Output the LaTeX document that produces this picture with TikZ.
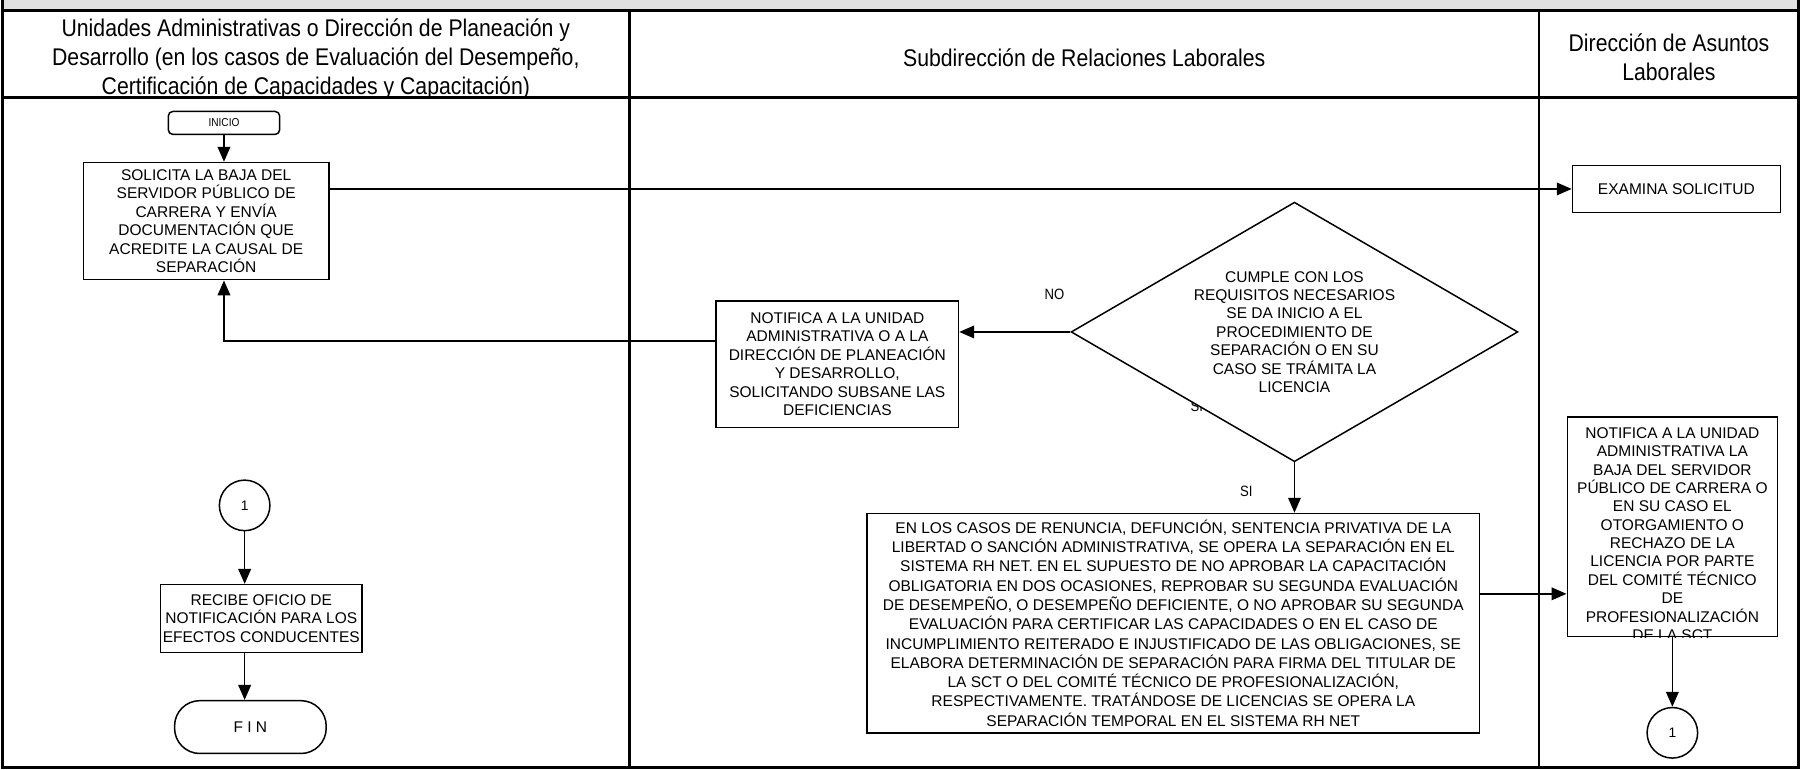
\documentclass[tikz,border=0pt]{standalone}
\usepackage{fontspec}
\setmainfont{Liberation Sans}
\newfontfamily\narrowfont[FakeStretch=0.88]{Liberation Sans}
\usetikzlibrary{shapes.geometric, arrows.meta, positioning}
\definecolor{bandgray}{RGB}{224,224,224}

\begin{document}
\begin{tikzpicture}[x=1pt, y=-1pt,
  lane/.style={line width=2.2pt},
  pbox/.style={draw, line width=1.3pt, align=center, inner sep=2pt, font=\fontsize{13.5}{16}\selectfont},
  term/.style={draw, line width=1.3pt, align=center},
  conn/.style={draw, circle, line width=1.3pt, minimum size=44pt, inner sep=0pt, font=\fontsize{12}{14}\selectfont},
  flow/.style={line width=1.3pt, -{Triangle[length=13pt, width=11pt]}},
  hdr/.style={align=center, font=\narrowfont\fontsize{21}{25}\selectfont},
  tag/.style={font=\narrowfont\fontsize{13}{15}\selectfont}
]
  \useasboundingbox (0,0) rectangle (1568,670);

  % swimlanes
  \fill[bandgray] (2,0) rectangle (1566,9);
  \draw[lane] (2,0) -- (2,668) -- (1566,668) -- (1566,0);
  \draw[lane] (2,9) -- (1566,9);
  \draw[lane] (2,85) -- (1566,85);
  \draw[lane] (548,9) -- (548,668);
  \draw[lane] (1340,9) -- (1340,668);

  \node[hdr] (hunidades) at (275,51.5) {Unidades Administrativas o Dirección de Planeación y\\
    Desarrollo (en los casos de Evaluación del Desempeño,\\
    Certificación de Capacidades y Capacitación)};
  \node[hdr] (hsubdir) at (944,50) {Subdirección de Relaciones Laborales};
  \node[hdr] (hdal) at (1453,50) {Dirección de Asuntos\\Laborales};

  % first lane
  \node[term, rounded corners=4pt, minimum width=97pt, minimum height=20pt,
    font=\narrowfont\fontsize{10}{12}\selectfont] (inicio) at (195,107) {INICIO};
  \node[pbox, minimum width=214pt, minimum height=102pt] (solicita) at (179.5,192.5) {SOLICITA LA BAJA DEL\\
    SERVIDOR PÚBLICO DE\\CARRERA Y ENVÍA\\DOCUMENTACIÓN QUE\\ACREDITE LA CAUSAL DE\\SEPARACIÓN};
  \node[conn] (conA) at (213,440) {1};
  \node[pbox, minimum width=175pt, minimum height=59pt] (recibe) at (227.5,538.5) {RECIBE OFICIO DE\\
    NOTIFICACIÓN PARA LOS\\EFECTOS CONDUCENTES};
  \node[term, rounded corners=22pt, minimum width=132pt, minimum height=46pt,
    font=\fontsize{13.5}{16}\selectfont] (fin) at (218,633) {F I N};

  % second lane
  \node[pbox, minimum width=211pt, minimum height=110pt] (notifica) at (729,317) {NOTIFICA A LA UNIDAD\\
    ADMINISTRATIVA O A LA\\DIRECCIÓN DE PLANEACIÓN\\Y DESARROLLO,\\SOLICITANDO SUBSANE LAS\\DEFICIENCIAS};
  \node[tag] (sihidden) at (1042,354) {SI};
  \node[pbox, shape=diamond, fill=white, inner sep=0pt, aspect=1.72, minimum width=389pt, minimum height=226pt]
    (cumple) at (1127,289) {CUMPLE CON LOS\\REQUISITOS NECESARIOS\\SE DA INICIO A EL\\PROCEDIMIENTO DE\\
    SEPARACIÓN O EN SU\\CASO SE TRÁMITA LA\\LICENCIA};
  \node[tag] (no) at (918,256) {NO};
  \node[tag] (si) at (1085,428) {SI};
  \node[pbox, minimum width=533pt, minimum height=191pt, font=\fontsize{13.5}{16.8}\selectfont] (opera)
    at (1021.5,542.5) {EN LOS CASOS DE RENUNCIA, DEFUNCIÓN, SENTENCIA PRIVATIVA DE LA\\
    LIBERTAD O SANCIÓN ADMINISTRATIVA, SE OPERA LA SEPARACIÓN EN EL\\
    SISTEMA RH NET. EN EL SUPUESTO DE NO APROBAR LA CAPACITACIÓN\\
    OBLIGATORIA EN DOS OCASIONES, REPROBAR SU SEGUNDA EVALUACIÓN\\
    DE DESEMPEÑO, O DESEMPEÑO DEFICIENTE, O NO APROBAR SU SEGUNDA\\
    EVALUACIÓN PARA CERTIFICAR LAS CAPACIDADES O EN EL CASO DE\\
    INCUMPLIMIENTO REITERADO E INJUSTIFICADO DE LAS OBLIGACIONES, SE\\
    ELABORA DETERMINACIÓN DE SEPARACIÓN PARA FIRMA DEL TITULAR DE\\
    LA SCT O DEL COMITÉ TÉCNICO DE PROFESIONALIZACIÓN,\\
    RESPECTIVAMENTE. TRATÁNDOSE DE LICENCIAS SE OPERA LA\\
    SEPARACIÓN TEMPORAL EN EL SISTEMA RH NET};

  % third lane
  \node[pbox, minimum width=181pt, minimum height=41pt] (examina) at (1459.5,164.5) {EXAMINA SOLICITUD};
  \node[pbox, minimum width=183pt, minimum height=191pt] (notificados) at (1456,458.5) {};
  \begin{scope}
    \clip (notificados.south west) rectangle (notificados.north east);
    \node[anchor=north, align=center, inner sep=0pt, font=\fontsize{13.5}{16}\selectfont] (notificadostxt)
      at (1456,372) {NOTIFICA A LA UNIDAD\\ADMINISTRATIVA LA\\BAJA DEL SERVIDOR\\PÚBLICO DE CARRERA O\\
      EN SU CASO EL\\OTORGAMIENTO O\\RECHAZO DE LA\\LICENCIA POR PARTE\\DEL COMITÉ TÉCNICO\\DE\\
      PROFESIONALIZACIÓN\\DE LA SCT};
  \end{scope}
  \node[conn] (conB) at (1456,638) {1};

  % connectors
  \path ([yshift=20pt]notifica.west) coordinate (retorno);
  \path ([yshift=25.5pt]opera.east) coordinate (salida);
  \draw[flow] (inicio) -- (inicio |- solicita.north);
  \draw[flow] (solicita.east |- examina.west) -- (examina.west);
  \draw[flow] (cumple.west) -- (cumple.west -| notifica.east);
  \draw[flow] (retorno) -| (inicio |- solicita.south);
  \draw[flow] (cumple.south) -- (cumple.south |- opera.north);
  \draw[flow] (salida) -- (salida -| notificados.west);
  \draw[flow] (notificados) -- (conB);
  \draw[flow] (conA) -- (conA |- recibe.north);
  \draw[flow] (recibe.south -| conA) -- (conA |- fin.north);
\end{tikzpicture}
\end{document}
